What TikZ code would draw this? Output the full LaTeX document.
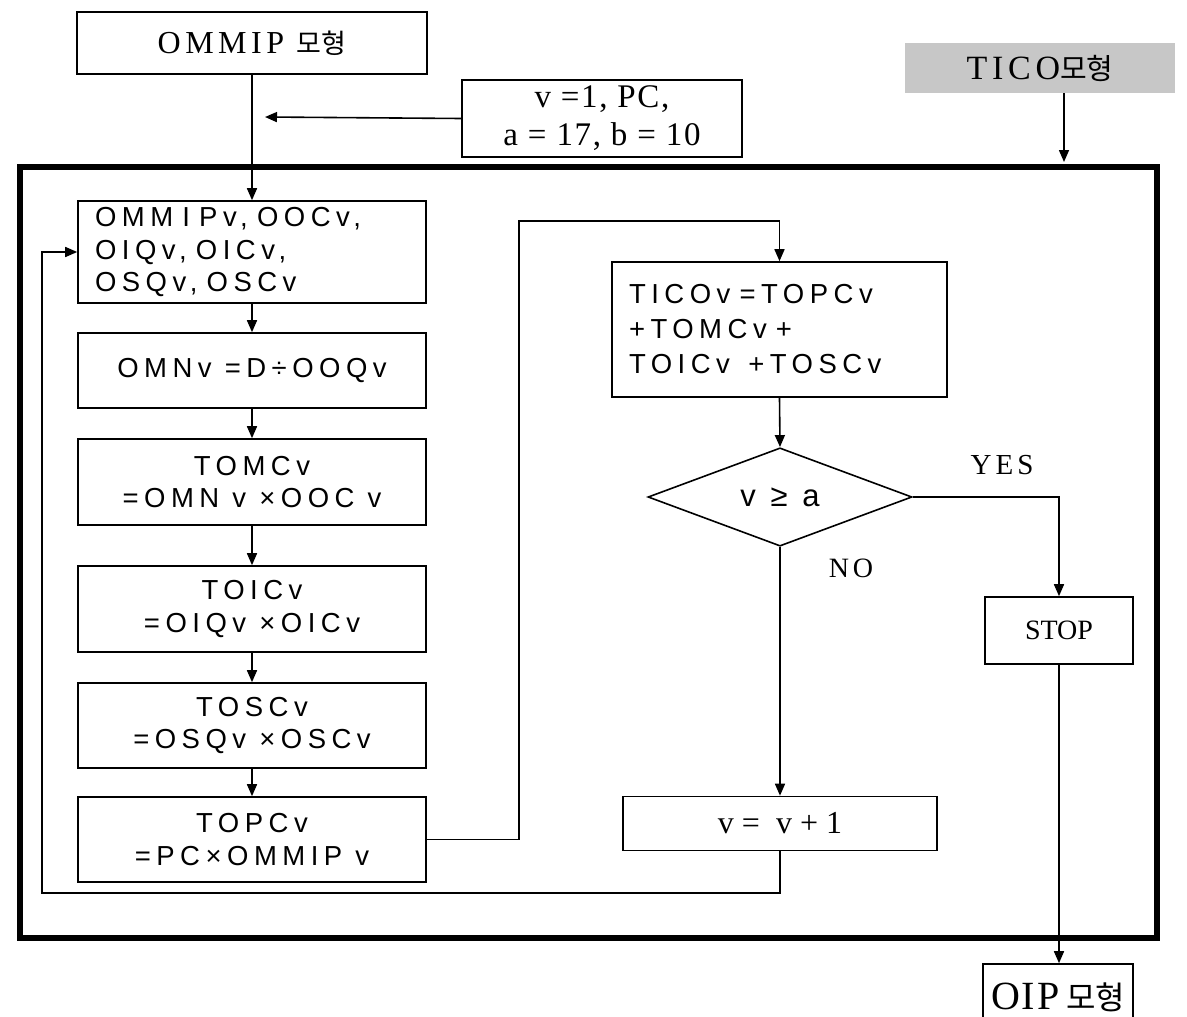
\documentclass[tikz,border=0pt]{standalone}
\usepackage{fontspec}
\setmainfont{Liberation Serif}
\newfontfamily\kr{Noto Sans CJK KR}
\newfontfamily\sersp[LetterSpace=14]{Liberation Serif}
\newfontfamily\serlt[LetterSpace=5]{Liberation Serif}
\newfontfamily\sanssp[LetterSpace=20]{Liberation Sans}
\usetikzlibrary{arrows.meta,shapes.geometric}
\begin{document}
\begin{tikzpicture}[x=1pt,y=-1pt,
  box/.style={draw,line width=1.6pt,inner sep=0pt},
  conn/.style={line width=1.6pt,-{Triangle[length=12pt,width=10pt]}},
  bt/.style={font=\sanssp\fontsize{27.5}{32.5}\selectfont,align=center},
  lt/.style={font=\sanssp\fontsize{27.5}{32.5}\selectfont,align=left}]
\useasboundingbox (0,0) rectangle (1187,1017);
\fill[white] (0,0) rectangle (1187,1017);
\coordinate (tx) at (1064,0);
% outer frame
\node[draw,line width=6pt,minimum width=1137pt,minimum height=771pt,inner sep=0pt] (frame) at (588.5,552.5) {};
% top boxes
\node[box,minimum width=350pt,minimum height=62pt,font=\sersp\fontsize{32}{34}\selectfont] (ommip) at (252,43) {OMMIP {\kr\fontsize{27}{28}\selectfont 모형}};
\node[box,minimum width=280pt,minimum height=77pt,align=center,font=\serlt\fontsize{33}{38}\selectfont] (param) at (602,118.5) {v =1, PC,\\ a = 17, b = 10};
\node[fill=black!22,minimum width=270pt,minimum height=50pt,inner sep=0pt,font=\sersp\fontsize{34}{36}\selectfont] (ticol) at (1040,68) {TICO{\kr\fontsize{29}{30}\selectfont 모형}};
\coordinate (pin) at (265,117);
% left column
\node[box,lt,minimum width=348pt,minimum height=102pt,text width=314pt] (b1) at (252,252) {OMM I Pv, OOCv,\\ OIQv, OICv,\\ OSQv, OSCv};
\node[box,bt,minimum width=348pt,minimum height=75pt] (b2) at (252,370.5) {OMNv =D÷OOQv};
\node[box,bt,minimum width=348pt,minimum height=86pt] (b3) at (252,482) {TOMCv\\ =OMN v ×OOC v};
\node[box,bt,minimum width=348pt,minimum height=86pt] (b4) at (252,609) {TOICv\\ =OIQv ×OICv};
\node[box,bt,minimum width=348pt,minimum height=85pt] (b5) at (252,725.5) {TOSCv\\ =OSQv ×OSCv};
\node[box,bt,minimum width=348pt,minimum height=85pt] (b6) at (252,839.5) {TOPCv\\ =PC×OMMIP v};
% right part
\node[box,lt,minimum width=335pt,minimum height=135pt,text width=301pt,font=\sanssp\fontsize{27.5}{35}\selectfont] (tico) at (779.5,329.5) {TICOv =TOPCv\\ +TOMCv +\\ TOICv \ +TOSCv};
\node[draw,diamond,line width=1.6pt,inner sep=0pt,minimum width=264pt,minimum height=87pt,font=\sanssp\fontsize{31}{32}\selectfont] (dec) at (780,497) {v ≥ a};
\node[box,minimum width=314pt,minimum height=54pt,font=\fontsize{32}{32}\selectfont] (vbox) at (780,823.5) {v = \ v + 1};
\node[box,minimum width=148pt,minimum height=67pt,font=\fontsize{28}{28}\selectfont] (stop) at (1059,630.5) {STOP};
\node[box,minimum width=150pt,minimum height=66pt,font=\serlt\fontsize{40}{40}\selectfont] (oip) at (1058,997) {OIP\,{\kr\fontsize{32}{32}\selectfont 모형}};
\node[font=\sersp\fontsize{29}{29}\selectfont] (yes) at (1002,465) {YES};
\node[font=\sersp\fontsize{28}{28}\selectfont] (no) at (851,568) {NO};
% connectors
\draw[conn] (ommip.south) -- (b1.north);
\draw[conn] (param.west) -- (pin);
\draw[conn,shorten >=2pt] (ticol.south -| tx) -- (frame.north -| tx);
\draw[conn] (b1.south) -- (b2.north);
\draw[conn] (b2.south) -- (b3.north);
\draw[conn] (b3.south) -- (b4.north);
\draw[conn] (b4.south) -- (b5.north);
\draw[conn] (b5.south) -- (b6.north);
\draw[conn] (b6.east) -| (519,221) -| (tico.north);
\draw[conn] (tico.south) -- (dec.north);
\draw[conn] (dec.east) -| (stop.north);
\draw[conn] (dec.south) -- (vbox.north);
\draw[conn] (vbox.south) |- (42,893) |- (b1.west);
\draw[conn] (stop.south) -- (oip.north -| stop.south);
\end{tikzpicture}
\end{document}
